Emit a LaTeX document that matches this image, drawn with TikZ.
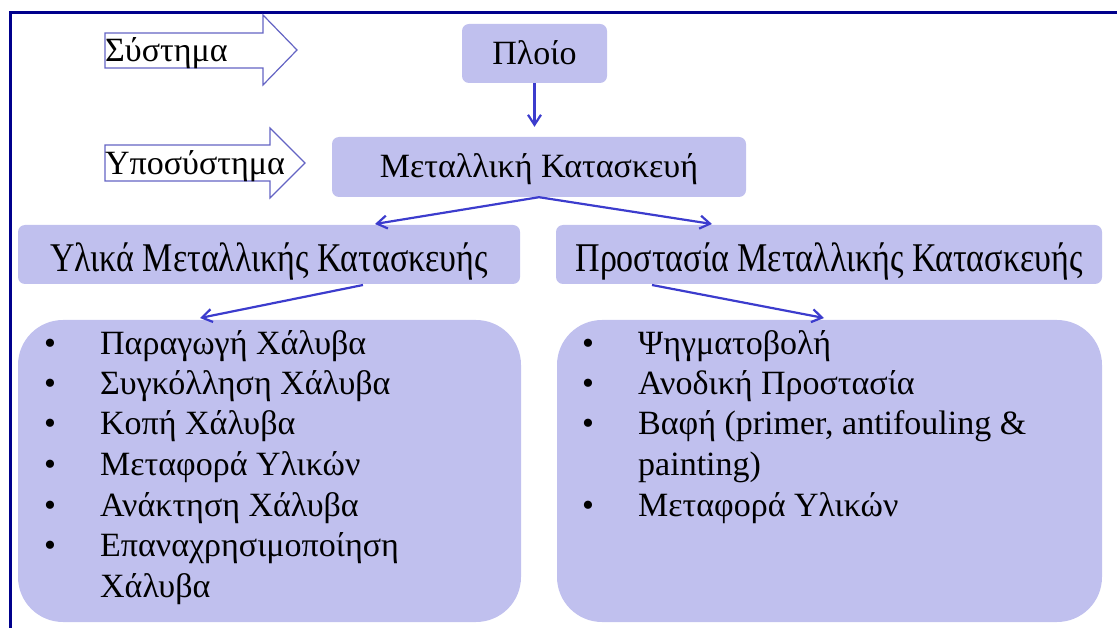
\documentclass[tikz,border=0pt]{standalone}
\usepackage{fontspec}
\setmainfont{Liberation Serif}
\usepackage{graphicx}
\usetikzlibrary{arrows.meta}

\definecolor{boxfill}{RGB}{192,192,238}
\definecolor{linkblue}{RGB}{60,60,205}
\definecolor{framenavy}{RGB}{0,0,140}
\definecolor{shapeline}{RGB}{100,100,196}

\begin{document}
\begin{tikzpicture}[x=1pt,y=-1pt,
	box/.style={fill=boxfill,rounded corners=7pt,inner sep=0,align=center},
	listbox/.style={fill=boxfill,rounded corners=45pt,inner sep=0},
	link/.style={draw=linkblue,line width=2.2pt,-{Straight Barb[length=10pt,width=13pt]}},
	item/.style={anchor=base west,inner sep=0},
	dot/.style={anchor=base,inner sep=0},
	levelarrow/.style={draw=shapeline,line width=1.2pt,fill=white}]
		\useasboundingbox (0,0) rectangle (1117,628);
		\fontsize{34}{40}\selectfont
		% frame
		\draw [draw=framenavy,line width=3pt] (10,628) -- (10,13) -- (1117,13);
		% level arrows
		\draw [levelarrow] (105,33) -- (263,33) -- (263,15) -- (297,50) -- (263,85) -- (263,68) -- (105,68) -- cycle;
		\node [item] (sys) at (105,62) {Σύστημα};
		\draw [levelarrow] (105,145) -- (270,145) -- (270,128) -- (305,163) -- (270,198) -- (270,181) -- (105,181) -- cycle;
		\node [item] (subsys) at (105,175) {Υποσύστημα};
		% boxes
		\node [box,minimum width=145,minimum height=59,text height=30,text depth=7] (ship) at (534.5,53.5) {Πλοίο};
		\node [box,minimum width=414,minimum height=60,text height=29,text depth=7] (metal) at (539,167) {Μεταλλική Κατασκευή};
		\node [box,minimum width=502,minimum height=59,text height=38,text depth=3] (mat) at (269,254.5) {\scalebox{1}[1.2]{Υλικά Μεταλλικής Κατασκευής}};
		\node [box,minimum width=546,minimum height=59,text height=38,text depth=3] (prot) at (829,254.5) {\scalebox{1}[1.2]{Προστασία Μεταλλικής Κατασκευής}};
		\node [listbox,minimum width=503,minimum height=302] (matlist) at (269.5,471) {};
		\node [listbox,minimum width=545,minimum height=302] (protlist) at (829.5,471) {};
		% links
		\coordinate (mat-in) at (375,224);
		\coordinate (prot-in) at (712,224);
		\coordinate (mat-out) at (363,285);
		\coordinate (matlist-in) at (200,318);
		\coordinate (prot-out) at (652,285);
		\coordinate (protlist-in) at (824,318);
		\draw [link] (ship.south) -- ([yshift=10pt]ship.south |- metal.north);
		\draw [link] (metal.south) -- (mat-in);
		\draw [link] (metal.south) -- (prot-in);
		\draw [link] (mat-out) -- (matlist-in);
		\draw [link] (prot-out) -- (protlist-in);
		% left list
		\node [dot] (b1) at (50,355) {•};
		\node [item] (m1) at (100,355) {Παραγωγή Χάλυβα};
		\node [dot] (b2) at (50,395) {•};
		\node [item] (m2) at (100,395) {Συγκόλληση Χάλυβα};
		\node [dot] (b3) at (50,435) {•};
		\node [item] (m3) at (100,435) {Κοπή Χάλυβα};
		\node [dot] (b4) at (50,475) {•};
		\node [item] (m4) at (100,475) {Μεταφορά Υλικών};
		\node [dot] (b5) at (50,516) {•};
		\node [item] (m5) at (100,516) {Ανάκτηση Χάλυβα};
		\node [dot] (b6) at (50,556) {•};
		\node [item] (m6) at (100,556) {Επαναχρησιμοποίηση};
		\node [item] (m7) at (100,597) {Χάλυβα};
		% right list
		\node [dot] (c1) at (588,355) {•};
		\node [item] (p1) at (638,355) {Ψηγματοβολή};
		\node [dot] (c2) at (588,395) {•};
		\node [item] (p2) at (638,395) {Ανοδική Προστασία};
		\node [dot] (c3) at (588,435) {•};
		\node [item] (p3) at (638,435) {Βαφή (primer, antifouling \&};
		\node [item] (p4) at (638,475) {painting)};
		\node [dot] (c4) at (588,516) {•};
		\node [item] (p5) at (638,516) {Μεταφορά Υλικών};
	\end{tikzpicture}
\end{document}
